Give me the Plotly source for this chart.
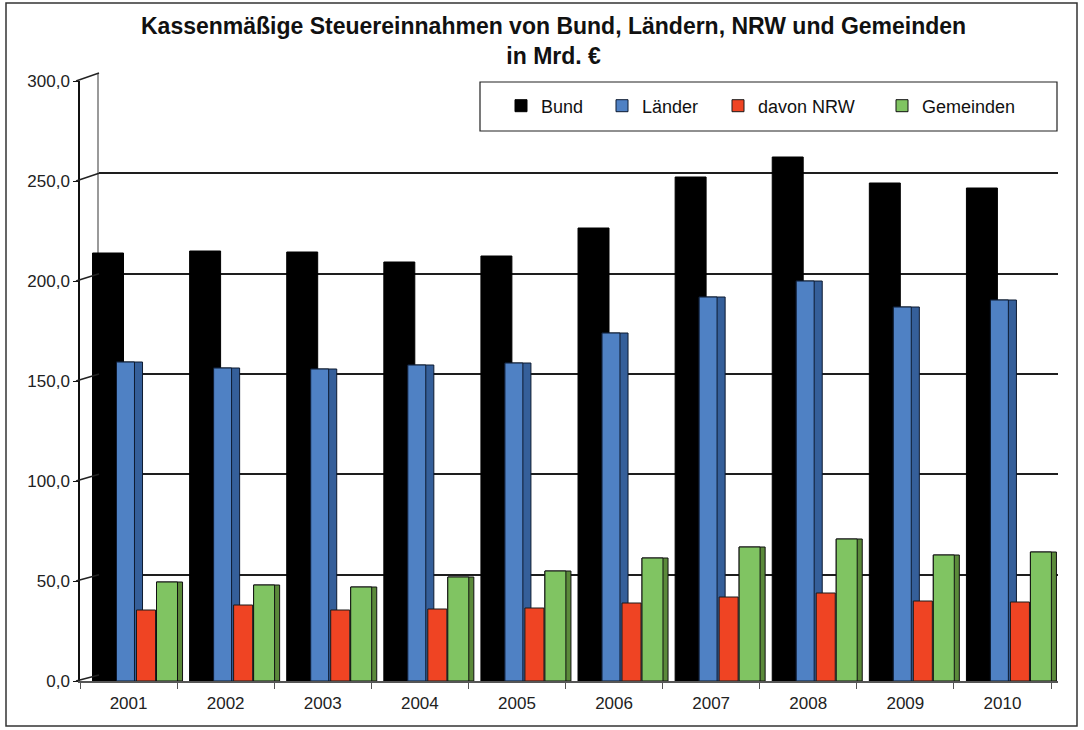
import plotly.graph_objects as go

# ---------------- data ----------------
years = ["2001", "2002", "2003", "2004", "2005", "2006", "2007", "2008", "2009", "2010"]
bund = [214.0, 215.0, 214.5, 209.5, 212.5, 226.5, 252.0, 262.0, 249.0, 246.5]
laender = [159.5, 156.5, 156.0, 158.0, 159.0, 174.0, 192.0, 200.0, 187.0, 190.5]
nrw = [35.5, 38.0, 35.5, 36.0, 36.5, 39.0, 42.0, 44.0, 40.0, 39.5]
gemeinden = [49.5, 48.0, 47.0, 52.0, 55.0, 61.5, 67.0, 71.0, 63.0, 64.5]
y_ticks = [0, 50, 100, 150, 200, 250, 300]
series_names = ["Bund", "Länder", "davon NRW", "Gemeinden"]

W, H = 1084, 730
FONT = "Liberation Sans, Arial, sans-serif"


def px(x):
    return x / W


def py(y):
    return 1 - y / H


CAT_PX = 97.1  # width of one category in pixels
# front axes (bars) and back wall (grid)
front_x = [px(80), px(1058)]
front_y = [py(681), py(81)]
back_x = [px(99), px(1058)]
back_y = [py(675), py(73)]
x_range_end = 9.5 + (1058 - 1051) / CAT_PX

fig = go.Figure()

# invisible trace to anchor back-wall subplot
fig.add_trace(go.Scatter(x=[0], y=[0], xaxis="x", yaxis="y", mode="markers",
                         marker=dict(opacity=0), showlegend=False, hoverinfo="skip"))

bar_common = dict(xaxis="x2", yaxis="y2")

fig.add_trace(go.Bar(x=years, y=bund, name=series_names[0], offset=-0.371, width=0.319,
                     marker=dict(color="#000000", line=dict(color="#000000", width=1)),
                     legend="legend", **bar_common))
fig.add_trace(go.Bar(x=years, y=laender, name="Länder side", offset=-0.124, width=0.268,
                     marker=dict(color="#355f9a", line=dict(color="#0d1a30", width=1)),
                     showlegend=False, hoverinfo="skip", **bar_common))
fig.add_trace(go.Bar(x=years, y=laender, name=series_names[1], offset=-0.124, width=0.185,
                     marker=dict(color="#4f81c4", line=dict(color="#0d1a30", width=1)),
                     legend="legend2", **bar_common))
fig.add_trace(go.Bar(x=years, y=nrw, name=series_names[2], offset=0.082, width=0.196,
                     marker=dict(color="#ef4423", line=dict(color="#1a1a1a", width=1)),
                     legend="legend3", **bar_common))
fig.add_trace(go.Bar(x=years, y=gemeinden, name="Gemeinden side", offset=0.288, width=0.268,
                     marker=dict(color="#5b8a3a", line=dict(color="#111111", width=1)),
                     showlegend=False, hoverinfo="skip", **bar_common))
fig.add_trace(go.Bar(x=years, y=gemeinden, name=series_names[3], offset=0.288, width=0.216,
                     marker=dict(color="#80c462", line=dict(color="#111111", width=1)),
                     legend="legend4", **bar_common))

shapes = []
# diagonal connectors between front axis ticks and back wall gridlines
for v in y_ticks:
    yf = front_y[0] + v / 300 * (front_y[1] - front_y[0])
    yb = back_y[0] + v / 300 * (back_y[1] - back_y[0])
    shapes.append(dict(type="line", xref="paper", yref="paper", x0=px(76), y0=yf,
                       x1=back_x[0], y1=yb, line=dict(color="#222222", width=1.5)))
# legend box
shapes.append(dict(type="rect", xref="paper", yref="paper", x0=px(480), x1=px(1057),
                   y0=py(131), y1=py(82), fillcolor="white",
                   line=dict(color="#222222", width=1.2), layer="above"))
# outer frame
shapes.append(dict(type="rect", xref="paper", yref="paper", x0=px(6), x1=px(1077),
                   y0=py(726), y1=py(3), line=dict(color="#333333", width=1.5)))

title_text = ("<b>Kassenmäßige Steuereinnahmen von Bund, Ländern, NRW und Gemeinden</b>"
              "<br><b>in Mrd. €</b>")


def legend_at(text_start_px):
    return dict(orientation="h", x=px(text_start_px - 39), xanchor="left",
                y=py(106), yanchor="middle", bgcolor="rgba(0,0,0,0)", borderwidth=0,
                font=dict(family=FONT, size=18, color="#111111"))


fig.update_layout(
    width=W, height=H,
    margin=dict(l=0, r=0, t=0, b=0, autoexpand=False),
    paper_bgcolor="white",
    plot_bgcolor="rgba(0,0,0,0)",
    barmode="overlay",
    separators=",.",
    font=dict(family=FONT, size=16, color="#222222"),
    annotations=[dict(text=title_text, xref="paper", yref="paper", x=px(553), y=py(11),
                      xanchor="center", yanchor="top", showarrow=False,
                      font=dict(family=FONT, size=23, color="#111111"))],
    xaxis=dict(domain=back_x, anchor="y", range=[0, 1], visible=False),
    yaxis=dict(domain=back_y, anchor="x", range=[0, 300], tickvals=y_ticks,
               showgrid=True, gridcolor="#1e1e1e", gridwidth=1.5,
               showticklabels=False, zeroline=False, ticks="",
               showline=True, linecolor="#9a9a9a", linewidth=2),
    xaxis2=dict(domain=front_x, anchor="y2", type="category", range=[-0.5, x_range_end],
                showline=True, linecolor="#555555", linewidth=1.5,
                ticks="outside", tickson="boundaries", ticklen=6, tickcolor="#555555",
                ticklabelstandoff=6,
                showgrid=False, tickfont=dict(size=17, color="#222222")),
    yaxis2=dict(domain=front_y, anchor="x2", range=[0, 300], tickvals=y_ticks,
                tickformat=".1f", showgrid=False, zeroline=False,
                showline=True, linecolor="#111111", linewidth=1.5,
                ticks="outside", ticklen=5, tickcolor="#111111",
                tickfont=dict(size=17, color="#222222")),
    legend=legend_at(540),
    legend2=legend_at(641),
    legend3=legend_at(757),
    legend4=legend_at(921),
    shapes=shapes,
    showlegend=True,
)

fig.write_html("out.html", config={"displayModeBar": False},
               post_script="document.body.style.margin='0';document.body.style.overflow='hidden';")
